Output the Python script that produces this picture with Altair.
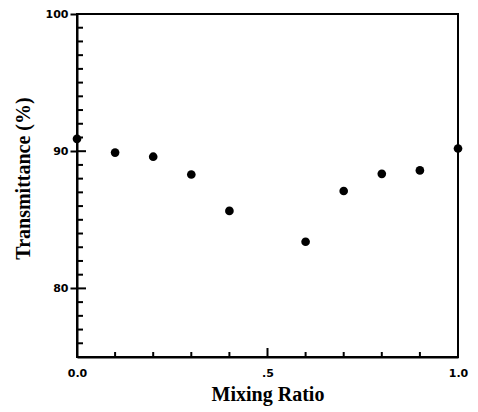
import altair as alt
import pandas as pd

# Data
mixing_ratio = [0.0, 0.1, 0.2, 0.3, 0.4, 0.6, 0.7, 0.8, 0.9, 1.0]
transmittance = [90.9, 89.9, 89.6, 88.3, 85.65, 83.4, 87.1, 88.35, 88.6, 90.2]

# Axis labels and tick positions
x_label_values = [0.0, 0.5, 1.0]
y_label_values = [80, 90, 100]
x_minor_ticks = [0.1, 0.2, 0.3, 0.4, 0.6, 0.7, 0.8, 0.9]
x_major_ticks = [0.5]
y_minor_ticks = [v for v in range(76, 100) if v % 10 != 0]
y_major_ticks = [80, 90]

df = pd.DataFrame({"ratio": mixing_ratio, "trans": transmittance})

W, H = 381, 343
xscale = alt.Scale(domain=[0, 1], nice=False, zero=False)
yscale = alt.Scale(domain=[75, 100], nice=False, zero=False)

label_font = "DejaVu Sans"
title_font = "Liberation Serif"

points = alt.Chart(df).mark_circle(size=75, color="black", opacity=1).encode(
    x=alt.X("ratio:Q", scale=xscale, axis=alt.Axis(
        values=x_label_values, orient="bottom", tickSize=0, labelPadding=10,
        labelFlush=False,
        labelExpr="datum.value == 0 ? '0.0' : (datum.value == 1 ? '1.0' : '.5')",
        labelFont=label_font, labelFontWeight="bold", labelFontSize=11, labelColor="black",
        domainColor="black", domainWidth=2, grid=False,
        title="Mixing Ratio", titleFont=title_font, titleFontWeight="bold",
        titleFontSize=20, titleColor="black", titlePadding=6)),
    y=alt.Y("trans:Q", scale=yscale, axis=alt.Axis(
        values=y_label_values, orient="left", tickSize=7, tickWidth=2, tickColor="black",
        labelPadding=2, labelFont=label_font, labelFontWeight="bold", labelFontSize=11,
        labelColor="black", domainColor="black", domainWidth=2, grid=False,
        title="Transmittance (%)", titleFont=title_font, titleFontWeight="bold",
        titleFontSize=20, titleColor="black", titlePadding=12, titleY=164)),
)


def xticks(vals, length):
    d = pd.DataFrame({"ratio": vals})
    return alt.Chart(d).mark_rule(color="black", strokeWidth=2).encode(
        x=alt.X("ratio:Q", scale=xscale, axis=None),
        y=alt.value(H), y2=alt.value(H - length))


def yticks(vals, length):
    d = pd.DataFrame({"trans": vals})
    return alt.Chart(d).mark_rule(color="black", strokeWidth=2).encode(
        y=alt.Y("trans:Q", scale=yscale, axis=None),
        x=alt.value(0), x2=alt.value(length))


chart = alt.layer(
    points,
    xticks(x_minor_ticks, 5), xticks(x_major_ticks, 9),
    yticks(y_minor_ticks, 6), yticks(y_major_ticks, 9),
).resolve_axis(
    x="independent", y="independent"
).properties(
    width=W, height=H,
    autosize=alt.AutoSizeParams(type="none"),
    padding={"left": 69, "top": 6, "right": 12, "bottom": 50},
).configure_view(stroke="black", strokeWidth=2)

chart.save("out.html", embed_options={"renderer": "svg", "actions": False})
